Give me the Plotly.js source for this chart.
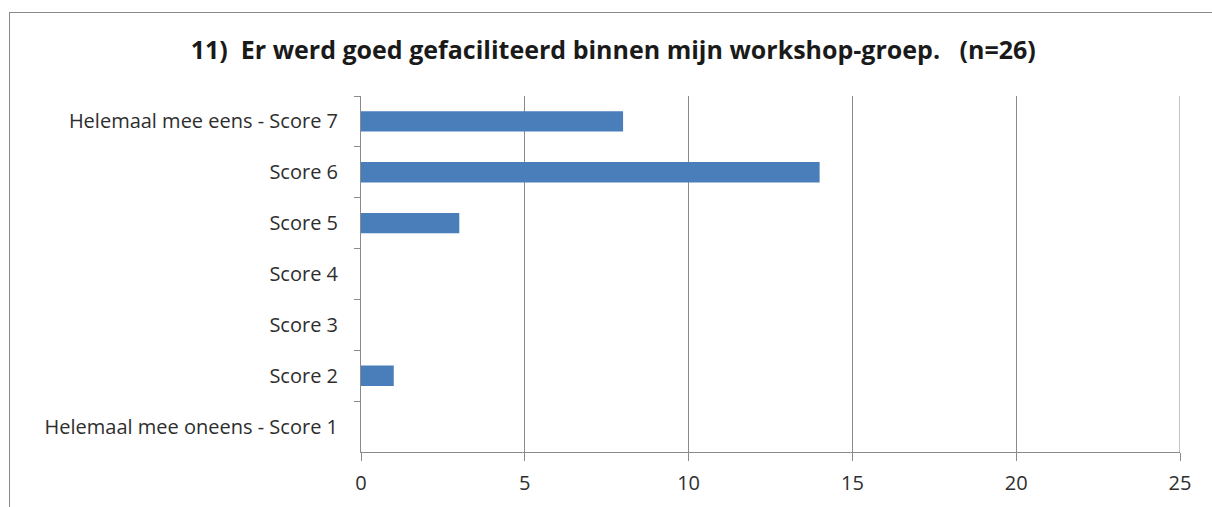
<!DOCTYPE html>
<html>
<head>
<meta charset="utf-8">
<script src="https://cdn.plot.ly/plotly-3.0.1.min.js"></script>
<style>
  html, body { margin: 0; padding: 0; background: #fff; }
  #chart { width: 1212px; height: 507px; position: absolute; left: 0; top: 0; }
  #frame { position: absolute; left: 9px; top: 12px; width: 1400px; height: 700px;
           border-left: 1px solid #8a8a8a; border-top: 1px solid #8a8a8a; pointer-events: none; }
</style>
</head>
<body>
<div id="chart"></div>
<div id="frame"></div>
<script>
const categories = [
  "Helemaal mee eens - Score 7",
  "Score 6",
  "Score 5",
  "Score 4",
  "Score 3",
  "Score 2",
  "Helemaal mee oneens - Score 1"
];
const counts = [8, 14, 3, 0, 0, 1, 0];
const xTicks = [0, 5, 10, 15, 20, 25];
const titleText = "11)  Er werd goed gefaciliteerd binnen mijn workshop-groep.   (n=26)";

const trace = {
  type: "bar",
  orientation: "h",
  y: categories,
  x: counts,
  marker: { color: "#4a7ebb" },
  width: 0.4,
  hoverinfo: "x+y"
};

const labelFont = { family: "Open Sans, Liberation Sans, sans-serif", size: 20, color: "#2e2e2e" };

const layout = {
  width: 1212,
  height: 507,
  margin: { l: 361, r: 32, t: 96, b: 55 },
  paper_bgcolor: "#ffffff",
  plot_bgcolor: "#ffffff",
  showlegend: false,
  title: {
    text: "<b>" + titleText + "</b>",
    font: { family: "Open Sans, Liberation Sans, sans-serif", size: 25, color: "#1a1a1a" },
    x: 0.506,
    xanchor: "center",
    y: 0.9,
    yanchor: "middle"
  },
  xaxis: {
    range: [0, 25],
    tickvals: xTicks,
    ticktext: xTicks.map(String),
    showgrid: true,
    gridcolor: "#8a8a8a",
    gridwidth: 1,
    showline: true,
    linecolor: "#8a8a8a",
    linewidth: 1,
    ticks: "outside",
    ticklen: 8,
    tickcolor: "#8a8a8a",
    ticklabelstandoff: 5,
    zeroline: false,
    tickfont: labelFont,
    fixedrange: true
  },
  yaxis: {
    type: "category",
    categoryorder: "array",
    categoryarray: categories,
    autorange: "reversed",
    showgrid: false,
    showline: true,
    linecolor: "#8a8a8a",
    linewidth: 1,
    ticks: "outside",
    tickson: "boundaries",
    ticklen: 6,
    tickcolor: "#8a8a8a",
    ticklabelstandoff: 18,
    tickfont: labelFont,
    fixedrange: true
  },
  shapes: [{
    type: "line", xref: "x", yref: "paper", x0: 25, x1: 25, y0: 0, y1: 1,
    line: { color: "#8a8a8a", width: 1 }
  }]
};

Plotly.newPlot("chart", [trace], layout, { displayModeBar: false, staticPlot: true });
</script>
</body>
</html>
